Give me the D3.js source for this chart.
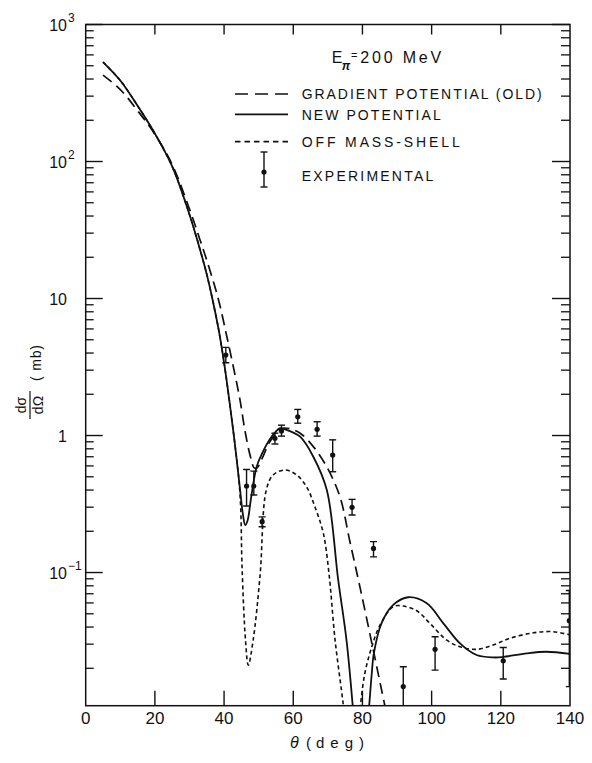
<!DOCTYPE html>
<html><head><meta charset="utf-8">
<script src="https://cdn.jsdelivr.net/npm/d3@7"></script>
<style>body{margin:0;background:#fff}svg{display:block}text{font-family:"Liberation Sans",Arial,sans-serif;fill:#111}</style>
</head><body><svg id="c" width="592" height="763"></svg>
<script>
// ---- data (theta in deg, dsigma/dOmega in mb) ----
const gradTheta = [5,10,15,20,25,30,33,35,38.3,41,43,44.6,46,47.5,48.7,49.5,51,53,55,57,59,62,65.8,69.7,73.5,76.4,79.3,82.9,86.5,88];
const gradValue = [427,335,235,158,95,45,27,19,10,5,2.9,1.82,1.1,0.72,0.58,0.58,0.68,0.88,1.03,1.13,1.12,1.04,0.83,0.59,0.357,0.167,0.078,0.029,0.0106,0.007];

const newTheta1 = [5,10,15,20,25,30,33,35,36.6,38.5,40,41.5,43,44.5,45.5,46.1,46.8,47.8,49.4,51,53,55,56.2,58,60,62,65.8,69.7,73,75.4,77.2,78];
const newValue1 = [532,390,255,160,92,41,23,15,10,5.8,3.4,1.82,0.92,0.43,0.26,0.222,0.24,0.35,0.59,0.74,0.92,1.07,1.13,1.1,1.05,0.98,0.70,0.40,0.088,0.032,0.0106,0.006];
const newTheta2 = [81.5,82,82.7,83.3,85.5,88.9,93.2,98.6,103.4,108.2,113,117.8,120.7,127.5,133.2,140];
const newValue2 = [0.008,0.0111,0.0184,0.0257,0.0426,0.058,0.066,0.0596,0.0426,0.0304,0.025,0.024,0.0242,0.0257,0.0264,0.0255];

const offTheta1 = [5,10,15,20,25,30,33,35,36.6,38.5,40,41.5,43,44.3,44.8,45.2,46.2,47,48.4,50.4,52.2,54.2,57.6,61,63.9,66.3,68.7,70.3,72.1,74.5,75.5];
const offValue1 = [532,390,255,160,92,41,23,15,10,5.8,3.4,1.82,0.92,0.47,0.3,0.11,0.032,0.0211,0.032,0.095,0.40,0.515,0.56,0.515,0.42,0.30,0.193,0.1,0.032,0.0106,0.006];
const offTheta2 = [79,79.5,80.7,82.7,85.1,88.9,91.8,95.7,99.5,104.3,108.2,113,117.8,122.6,129.4,135.1,140];
const offValue2 = [0.008,0.0111,0.0184,0.0287,0.0414,0.0563,0.0569,0.0526,0.0426,0.0322,0.0287,0.0275,0.0296,0.0331,0.0363,0.037,0.035];

const expTheta = [40.5,46.5,48.6,51,54.7,56.6,61.3,66.9,71.4,77,83.2,91.8,101,120.7,139.8];
const expValue = [3.87,0.428,0.428,0.235,0.954,1.08,1.37,1.11,0.72,0.299,0.150,0.0147,0.0275,0.0227,0.0445];
const expLow   = [3.4,0.306,0.368,0.216,0.867,0.99,1.23,0.99,0.544,0.263,0.130,0.0105,0.0194,0.0167,0.0147];
const expHigh  = [4.4,0.565,0.55,0.255,1.04,1.19,1.55,1.26,0.93,0.342,0.168,0.0205,0.034,0.0284,0.074];

const xTicks = [0,20,40,60,80,100,120,140];
const yMajor = [1000,100,10,1,0.1];
const yLabels = [["10","3"],["10","2"],["10",""],["1",""],["10","-1"]];
const legendLabels = ["GRADIENT POTENTIAL (OLD)","NEW POTENTIAL","OFF MASS-SHELL","EXPERIMENTAL"];

// ---- layout ----
const svg = d3.select("#c");
const x = d3.scaleLinear().domain([0,140]).range([85.7,570]);
const y = d3.scaleLog().domain([Math.pow(10,-1.972),1000]).range([705.7,24.5]);
const X0 = x(0), X1 = x(140), Y0 = y.range()[0], Y1 = y.range()[1];

svg.append("defs").append("clipPath").attr("id","pc").append("rect")
  .attr("x",X0).attr("y",Y1).attr("width",X1-X0).attr("height",Y0-Y1);

const g = svg.append("g");
g.append("rect").attr("x",X0).attr("y",Y1).attr("width",X1-X0).attr("height",Y0-Y1)
  .attr("fill","none").attr("stroke","#111").attr("stroke-width",1.5);

// y ticks
const [dmin,dmax] = y.domain();
for (let k=-2;k<=2;k++){
  for (let m=2;m<=9;m++){
    const v=m*Math.pow(10,k);
    if (v<dmin||v>dmax) continue;
    g.append("line").attr("x1",X0).attr("x2",X0+8).attr("y1",y(v)).attr("y2",y(v)).attr("stroke","#111").attr("stroke-width",1.3);
    g.append("line").attr("x1",X1-9).attr("x2",X1).attr("y1",y(v)).attr("y2",y(v)).attr("stroke","#111").attr("stroke-width",1.3);
  }
}
yMajor.forEach((v,i)=>{
  g.append("line").attr("x1",X0).attr("x2",X0+17).attr("y1",y(v)).attr("y2",y(v)).attr("stroke","#111").attr("stroke-width",1.4);
  g.append("line").attr("x1",X1-18).attr("x2",X1).attr("y1",y(v)).attr("y2",y(v)).attr("stroke","#111").attr("stroke-width",1.4);
  const [b,s]=yLabels[i];
  g.append("text").attr("x",67).attr("y",y(v)+6).attr("text-anchor","end").attr("font-size",16).text(b);
  if (s) g.append("text").attr("x",68).attr("y",y(v)-3).attr("font-size",12).text(s.replace("-","\u2212"));
});

// x ticks
xTicks.forEach(t=>{
  if (t>0 && t<140){
    g.append("line").attr("x1",x(t)).attr("x2",x(t)).attr("y1",Y0).attr("y2",Y0-15).attr("stroke","#111").attr("stroke-width",1.4);
    g.append("line").attr("x1",x(t)).attr("x2",x(t)).attr("y1",Y1).attr("y2",Y1+10).attr("stroke","#111").attr("stroke-width",1.4);
  }
  g.append("text").attr("x",x(t)).attr("y",724).attr("text-anchor","middle").attr("font-size",17).text(t);
});

// axis titles
g.append("text").attr("x",290).attr("y",748).attr("font-size",16).attr("font-style","italic").text("\u03b8");
g.append("text").attr("x",306).attr("y",748).attr("font-size",15).text("(");
g.append("text").attr("x",316).attr("y",748).attr("font-size",15).attr("textLength",48).attr("lengthAdjust","spacing").text("deg)");

const yl = g.append("g").attr("transform","translate(30,405) rotate(-90)");
yl.append("line").attr("x1",-14).attr("x2",14).attr("y1",0).attr("y2",0).attr("stroke","#111").attr("stroke-width",1.2);
yl.append("text").attr("x",0).attr("y",-4).attr("text-anchor","middle").attr("font-size",14).text("d\u03c3");
yl.append("text").attr("x",0).attr("y",13).attr("text-anchor","middle").attr("font-size",14).text("d\u03a9");
yl.append("text").attr("x",24).attr("y",11).attr("font-size",14).attr("textLength",36).attr("lengthAdjust","spacing").text("( mb)");

// curves
const line = d3.line().x(d=>x(d[0])).y(d=>y(d[1])).curve(d3.curveCatmullRom.alpha(0.5));
const zip = (a,b)=>a.map((t,i)=>[t,b[i]]);
const cg = g.append("g").attr("clip-path","url(#pc)").attr("fill","none").attr("stroke","#111");
cg.append("path").attr("d",line(zip(gradTheta,gradValue))).attr("stroke-width",1.7).attr("stroke-dasharray","11,6");
cg.append("path").attr("d",line(zip(offTheta1,offValue1))).attr("stroke-width",1.6).attr("stroke-dasharray","4,3");
cg.append("path").attr("d",line(zip(offTheta2,offValue2))).attr("stroke-width",1.6).attr("stroke-dasharray","4,3");
cg.append("path").attr("d",line(zip(newTheta1,newValue1))).attr("stroke-width",1.8);
cg.append("path").attr("d",line(zip(newTheta2,newValue2))).attr("stroke-width",1.8);

// experimental points
const eg = g.append("g").attr("clip-path","url(#pc)");
expTheta.forEach((t,i)=>{
  const cx=x(t), lo=Math.max(y(expLow[i]),0), hi=y(expHigh[i]);
  eg.append("line").attr("x1",cx).attr("x2",cx).attr("y1",lo).attr("y2",hi).attr("stroke","#111").attr("stroke-width",1.4);
  [lo,hi].forEach(yy=>eg.append("line").attr("x1",cx-3.5).attr("x2",cx+3.5).attr("y1",yy).attr("y2",yy).attr("stroke","#111").attr("stroke-width",1.4));
  eg.append("circle").attr("cx",cx).attr("cy",y(expValue[i])).attr("r",2.6).attr("fill","#111");
});

// legend
const lg = g.append("g");
const et = lg.append("text").attr("x",331.7).attr("y",63.3).attr("font-size",16);
et.append("tspan").text("E");
et.append("tspan").attr("dx",-0.5).attr("dy",6.5).attr("font-size",12).attr("font-weight","bold").attr("font-style","italic").text("\u03c0");
et.append("tspan").attr("dx",0.5).attr("dy",-11).attr("font-size",11).text("=");
et.append("tspan").attr("dx",3).attr("dy",4.5).attr("letter-spacing",2.8).text("200 MeV");
const lys=[94,114.3,141.7], tys=[98.7,120.3,147,181], tws=[240,139,158,131.6];
const dashes=["13,7",null,"5.5,4"];
lys.forEach((ly,i)=>{
  const l=lg.append("line").attr("x1",235).attr("x2",288).attr("y1",ly).attr("y2",ly).attr("stroke","#111").attr("stroke-width",1.7);
  if (dashes[i]) l.attr("stroke-dasharray",dashes[i]);
});
legendLabels.forEach((s,i)=>{
  lg.append("text").attr("x",301.7).attr("y",tys[i]).attr("font-size",14).attr("textLength",tws[i]).attr("lengthAdjust","spacing").text(s);
});
lg.append("line").attr("x1",264).attr("x2",264).attr("y1",152).attr("y2",187).attr("stroke","#111").attr("stroke-width",1.4);
[152,187].forEach(yy=>lg.append("line").attr("x1",260.5).attr("x2",267.5).attr("y1",yy).attr("y2",yy).attr("stroke","#111").attr("stroke-width",1.4));
lg.append("circle").attr("cx",264).attr("cy",172).attr("r",2.6).attr("fill","#111");
</script></body></html>
